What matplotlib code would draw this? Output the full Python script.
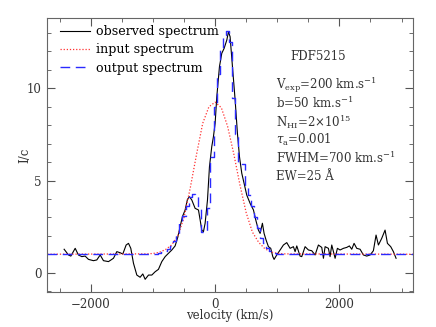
import matplotlib
matplotlib.use("Agg")
import matplotlib.pyplot as plt
from matplotlib.ticker import MultipleLocator

# observed spectrum (black, solid)
obsVel = [-2430, -2360, -2322, -2252, -2200, -2145, -2092, -2038, -1958, -1904,
          -1850, -1797, -1716, -1636, -1582, -1528, -1486, -1432, -1394, -1357,
          -1314, -1260, -1207, -1164, -1126, -1072, -1019, -965, -912, -858,
          -804, -751, -697, -644, -601, -563, -526, -483, -445, -413,
          -375, -322, -268, -241, -215, -188, -161, -123, -91, -54,
          -27, 0, 27, 70, 107, 145, 188, 215, 241, 279,
          322, 359, 392, 429, 472, 509, 563, 617, 654, 697,
          724, 761, 788, 820, 858, 895, 928, 949, 992, 1046,
          1099, 1153, 1207, 1260, 1287, 1314, 1367, 1394, 1448, 1502,
          1555, 1609, 1662, 1716, 1743, 1770, 1823, 1850, 1877, 1931,
          1968, 2011, 2065, 2118, 2161, 2199, 2236, 2279, 2333, 2386,
          2440, 2494, 2547, 2590, 2628, 2681, 2735, 2773, 2826, 2869, 2912]
obsFlux = [1.27, 0.96, 0.90, 1.32, 0.96, 0.87, 0.90, 0.72, 0.65, 0.69,
           0.96, 0.65, 0.60, 0.78, 1.14, 1.08, 1.01, 1.50, 1.59, 1.32,
           0.51, -0.13, -0.25, -0.07, -0.36, -0.13, -0.13, 0.05, 0.18, 0.60,
           0.87, 1.05, 1.23, 1.45, 1.92, 2.50, 3.04, 3.40, 3.98, 4.12,
           3.94, 3.49, 3.40, 2.86, 2.31, 2.22, 2.68, 3.94, 5.75, 6.84,
           7.38, 8.10, 9.55, 11.18, 11.90, 12.17, 12.62, 13.07, 12.80, 11.18,
           9.37, 7.56, 6.29, 5.39, 4.76, 4.21, 3.76, 3.40, 2.86, 2.31,
           2.13, 2.68, 2.13, 1.77, 1.41, 1.32, 0.87, 0.72, 0.96, 1.23,
           1.50, 1.63, 1.32, 1.41, 1.14, 1.45, 0.90, 0.87, 1.41, 1.23,
           1.19, 0.96, 1.50, 1.37, 0.78, 1.41, 1.32, 0.87, 1.50, 0.78,
           1.32, 1.23, 1.32, 1.37, 1.45, 1.27, 1.59, 1.32, 1.27, 0.96,
           0.90, 0.96, 1.19, 2.04, 1.50, 1.86, 2.31, 1.59, 1.41, 1.14, 0.78]

# input spectrum (red, dotted)
inVel = [-2700, -1100, -1000, -900, -800, -700, -600, -500, -400, -300, -200, -100, 0,
         100, 200, 300, 400, 500, 600, 700, 800, 900, 1000, 1100, 3200]
inFlux = [1.0, 1.02, 1.04, 1.1, 1.25, 1.5, 2.0, 3.0, 4.6, 6.4, 8.1, 9.0, 9.25,
          8.95, 7.95, 6.45, 4.75, 3.25, 2.2, 1.65, 1.3, 1.12, 1.05, 1.02, 1.0]

# output spectrum (blue, dashed, stepped)
outVel = [-2700, -1050, -1000, -950, -900, -850, -800, -750, -700, -650, -600, -550,
          -500, -450, -400, -350, -300, -250, -200, -150, -100, -50, 0,
          50, 100, 150, 200, 250, 300, 350, 400, 450, 500, 550, 600,
          650, 700, 750, 800, 850, 900, 950, 1000, 1050, 3200]
outFlux = [1.0, 1.0, 1.0, 1.02, 1.05, 1.1, 1.2, 1.3, 1.45, 1.7, 2.1, 2.7,
           3.05, 3.6, 4.1, 4.25, 4.2, 3.5, 2.2, 2.2, 3.5, 6.3, 9.0,
           10.8, 12.2, 12.9, 13.1, 12.5, 9.5, 7.5, 6.0, 5.9, 4.7, 4.2, 3.6,
           3.0, 2.4, 1.9, 1.6, 1.35, 1.15, 1.05, 1.0, 1.0, 1.0]

objName = "FDF5215"
infoLines = ["V$_{\\rm exp}$=200 km.s$^{-1}$",
             "b=50 km.s$^{-1}$",
             "N$_{\\rm HI}$=2$\\times$10$^{15}$",
             "$\\tau_{\\rm a}$=0.001",
             "FWHM=700 km.s$^{-1}$",
             "EW=25 \u00c5"]

plt.rcParams["font.family"] = ["DejaVu Serif"]
plt.rcParams["mathtext.fontset"] = "dejavuserif"
plt.rcParams["font.size"] = 8.5

fig = plt.figure(figsize=(4.36, 3.27), dpi=100)
ax = fig.add_axes([0.1086, 0.107, 0.838, 0.837])

ax.plot(obsVel, obsFlux, color="black", lw=0.8, label="observed spectrum")
ax.plot(inVel, inFlux, color="#ff3030", lw=0.9, linestyle=(0, (1, 1.5)),
        label="input spectrum")
ax.step(outVel, outFlux, where="mid", color="#2a2aff", lw=1.0,
        linestyle=(0, (7, 4)), label="output spectrum")

ax.set_xlim(-2700, 3180)
ax.set_ylim(-1.05, 13.8)
ax.xaxis.set_major_locator(MultipleLocator(2000))
ax.xaxis.set_minor_locator(MultipleLocator(500))
ax.yaxis.set_major_locator(MultipleLocator(5))
ax.yaxis.set_minor_locator(MultipleLocator(1))
ax.tick_params(which="both", direction="in", top=True, right=True,
               color="#555555", labelsize=8.5, labelcolor="#333333")
ax.tick_params(which="major", length=6, pad=4)
ax.tick_params(which="minor", length=3)
for s in ax.spines.values():
    s.set_color("#666666")
    s.set_linewidth(0.8)

ax.set_xlabel("velocity (km/s)", color="#333333", labelpad=-1)
ax.set_ylabel("I/c", color="#333333")
ax.yaxis.set_label_coords(-0.045, 0.5)

ax.legend(loc="upper left", bbox_to_anchor=(0.035, 0.975), frameon=False,
          handlelength=2.4, handletextpad=0.4, labelspacing=0.42,
          borderaxespad=0, borderpad=0, fontsize=9.1)

ax.text(0.665, 0.859, objName, transform=ax.transAxes, ha="left", va="center",
        color="#333333")
for i, line in enumerate(infoLines):
    ax.text(0.625, 0.757 - i * 0.0672, line, transform=ax.transAxes,
            ha="left", va="center", color="#333333")

fig.savefig("out.png", dpi=100)
